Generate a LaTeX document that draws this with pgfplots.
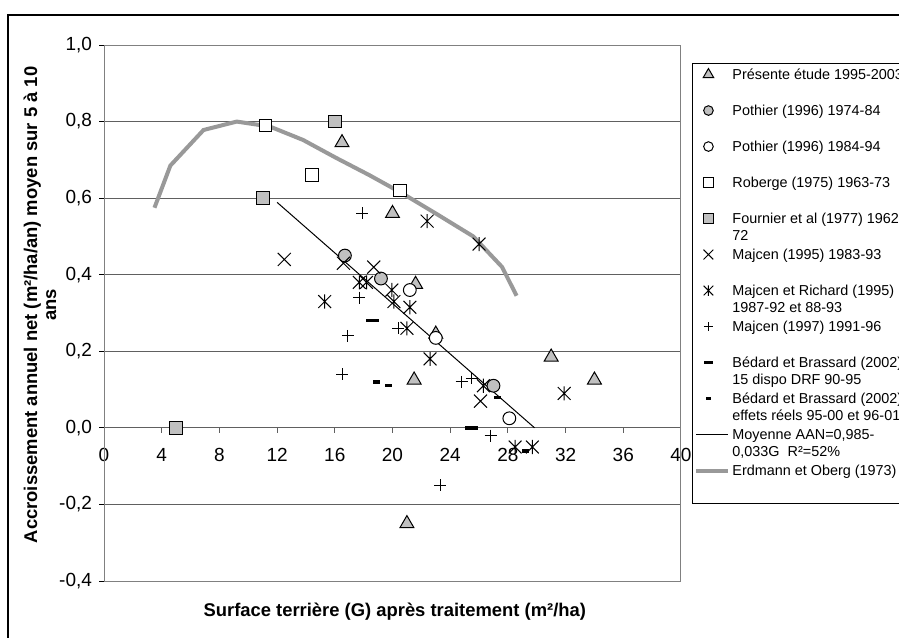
\documentclass[border=0pt]{standalone}
\usepackage{fontspec}
\setmainfont{Liberation Sans}
\usepackage{pgfplots}
\pgfplotsset{compat=1.18}
\definecolor{silver}{HTML}{C0C0C0}
\definecolor{curve}{HTML}{999999}
\definecolor{gridc}{HTML}{606060}

% Excel-like markers
\pgfdeclareplotmark{xstar}{%
  \pgfpathmoveto{\pgfqpoint{-\pgfplotmarksize}{-\pgfplotmarksize}}%
  \pgfpathlineto{\pgfqpoint{\pgfplotmarksize}{\pgfplotmarksize}}%
  \pgfpathmoveto{\pgfqpoint{-\pgfplotmarksize}{\pgfplotmarksize}}%
  \pgfpathlineto{\pgfqpoint{\pgfplotmarksize}{-\pgfplotmarksize}}%
  \pgfpathmoveto{\pgfqpoint{0pt}{-1.1\pgfplotmarksize}}%
  \pgfpathlineto{\pgfqpoint{0pt}{1.1\pgfplotmarksize}}%
  \pgfusepathqstroke}
\pgfdeclareplotmark{bigdash}{%
  \pgfpathrectangle{\pgfqpoint{-3.3pt}{-0.85pt}}{\pgfqpoint{6.6pt}{1.7pt}}\pgfusepathqfill}
\pgfdeclareplotmark{smalldash}{%
  \pgfpathrectangle{\pgfqpoint{-1.8pt}{-0.85pt}}{\pgfqpoint{3.6pt}{1.7pt}}\pgfusepathqfill}

\pgfplotsset{
  marklegend/.style={legend image code/.code={%
    \path (0pt,0pt) (16pt,0pt);
    \draw[##1, every mark/.append style={scale=0.75}] plot coordinates {(6pt,2.6pt)};}},
  linelegend/.style={legend image code/.code={%
    \path (0pt,0pt) (16pt,0pt);
    \draw[##1] (0pt,2.6pt) -- (16pt,2.6pt);}},
}
\newcommand{\lgent}[1]{\parbox[t]{130pt}{#1}}

\begin{document}
\begin{tikzpicture}
\fill[white] (0pt,0pt) rectangle (449.5pt,-318.5pt);
\draw[line width=1pt] (3.75pt,-330pt) -- (3.75pt,-7.5pt) -- (460pt,-7.5pt);

\begin{axis}[
  at={(52pt,-290.5pt)}, anchor=south west,
  scale only axis, width=288.5pt, height=268pt,
  xmin=0, xmax=40, ymin=-0.4, ymax=1.0,
  axis x line=middle, axis y line=left,
  axis line style={-},
  x axis line style={draw=gridc, line width=0.6pt},
  y axis line style={draw=black, line width=0.5pt},
  hide obscured x ticks=false,
  xtick={0,4,...,40},
  ytick={-0.4,-0.2,0,0.2,0.4,0.6,0.8,1.0},
  tick align=outside,
  major tick length=2.5pt,
  xtick style={draw=gridc, line width=0.5pt},
  ytick style={draw=black, line width=0.5pt},
  ymajorgrids, major grid style={draw=gridc, line width=0.5pt},
  tick label style={font=\fontsize{9.5}{10}\selectfont},
  xticklabel shift=4pt,
  /pgf/number format/assume math mode=true,
  yticklabel style={/pgf/number format/.cd, fixed, fixed zerofill, precision=1, use comma},
  every axis x label/.style={at={(axis description cs:0.504,-0.058)}, anchor=center,
    font=\fontsize{9.2}{10}\selectfont\bfseries},
  every axis y label/.style={at={(axis description cs:-0.111,0.515)}, anchor=center,
    rotate=90, align=center, font=\fontsize{9.2}{9.4}\selectfont\bfseries},
  xlabel={Surface terrière (G) après traitement (m²/ha)},
  ylabel={Accroissement annuel net (m²/ha/an) moyen sur 5 à 10\\ans},
  legend cell align=left,
  legend style={at={(axis description cs:1.019,0.966)}, anchor=north west,
    draw=black, line width=0.5pt, fill=white,
    font=\fontsize{7.2}{8.3}\selectfont,
    inner xsep=1pt, inner ysep=2pt, row sep=0pt, column sep=1pt,
    cells={anchor=base west},
    nodes={inner sep=0pt, text height=6pt, text depth=12pt}},
]

% lines first, so that the marks lie on top of them
\addplot[curve, line width=2pt, no markers, forget plot]
  coordinates {(3.5,0.575)(4.6,0.685)(6.9,0.778)(9.2,0.80)(11.5,0.787)
               (13.8,0.752)(16.1,0.705)(18.4,0.66)(20.7,0.612)(23.0,0.56)
               (25.6,0.50)(27.6,0.42)(28.6,0.345)};
\addplot[black, line width=0.5pt, no markers, forget plot]
  coordinates {(12.0,0.589)(29.85,0.0)};

\addplot[only marks, mark=triangle*, mark size=4pt,
  mark options={fill=silver, draw=black, line width=0.5pt}, marklegend]
  coordinates {(16.5,0.745)(20.0,0.56)(21.6,0.375)(23.0,0.245)(21.5,0.125)
               (31.0,0.185)(34.0,0.125)(21.0,-0.25)};
\addlegendentry{\lgent{Présente étude 1995-2003}}

\addplot[only marks, mark=*, mark size=3.2pt,
  mark options={fill=silver, draw=black, line width=0.5pt}, marklegend]
  coordinates {(16.7,0.45)(19.2,0.39)(27.0,0.11)};
\addlegendentry{\lgent{Pothier (1996) 1974-84}}

\addplot[only marks, mark=*, mark size=3.2pt,
  mark options={fill=white, draw=black, line width=0.5pt}, marklegend]
  coordinates {(21.2,0.36)(23.0,0.235)(28.1,0.025)};
\addlegendentry{\lgent{Pothier (1996) 1984-94}}

\addplot[only marks, mark=square*, mark size=3.2pt,
  mark options={fill=white, draw=black, line width=0.5pt}, marklegend]
  coordinates {(11.2,0.79)(14.4,0.66)(20.5,0.62)};
\addlegendentry{\lgent{Roberge (1975) 1963-73}}

\addplot[only marks, mark=square*, mark size=3.2pt,
  mark options={fill=silver, draw=black, line width=0.5pt}, marklegend]
  coordinates {(16.0,0.80)(11.0,0.60)(5.0,0.0)};
\addlegendentry{\lgent{Fournier et al (1977) 1962-\\72}}

\addplot[only marks, mark=x, mark size=4.6pt,
  mark options={draw=black, line width=0.5pt}, marklegend]
  coordinates {(12.5,0.44)(16.6,0.43)(18.7,0.42)(26.1,0.07)};
\addlegendentry{\lgent{Majcen (1995) 1983-93}}

\addplot[only marks, mark=xstar, mark size=3.2pt,
  mark options={draw=black, line width=0.5pt}, marklegend]
  coordinates {(22.4,0.54)(26.0,0.48)(17.7,0.38)(18.2,0.38)(19.95,0.36)
               (20.1,0.33)(21.2,0.315)(15.3,0.33)(21.0,0.26)(22.6,0.18)
               (26.3,0.11)(31.9,0.09)(28.5,-0.05)(29.7,-0.05)};
\addlegendentry{\lgent{Majcen et Richard (1995)\\1987-92 et 88-93}}

\addplot[only marks, mark=+, mark size=3pt,
  mark options={draw=black, line width=0.5pt}, marklegend]
  coordinates {(17.9,0.56)(17.7,0.34)(16.9,0.24)(20.4,0.26)(16.5,0.14)
               (24.8,0.12)(25.5,0.13)(26.8,-0.02)(23.3,-0.15)};
\addlegendentry{\lgent{Majcen (1997) 1991-96}}

\addplot[only marks, mark=bigdash, mark options={fill=black}, marklegend]
  coordinates {(18.6,0.28)(25.5,0.0)};
\addlegendentry{\lgent{Bédard et Brassard (2002)\\15 dispo DRF 90-95}}

\addplot[only marks, mark=smalldash, mark options={fill=black}, marklegend]
  coordinates {(18.9,0.12)(19.7,0.11)(27.3,0.08)(29.2,-0.06)};
\addlegendentry{\lgent{Bédard et Brassard (2002)\\effets réels 95-00 et 96-01}}

\addlegendimage{black, line width=0.5pt, linelegend}
\addlegendentry{\lgent{Moyenne AAN=0,985-\\0,033G\ \ R²=52\%}}
\addlegendimage{curve, line width=2pt, linelegend}
\addlegendentry{\lgent{Erdmann et Oberg (1973)}}

\draw[draw=black!50, line width=0.5pt] (rel axis cs:0,0) rectangle (rel axis cs:1,1);
\end{axis}
\pgfresetboundingbox
\useasboundingbox (0pt,0pt) rectangle (449.5pt,-318.5pt);
\end{tikzpicture}
\end{document}
